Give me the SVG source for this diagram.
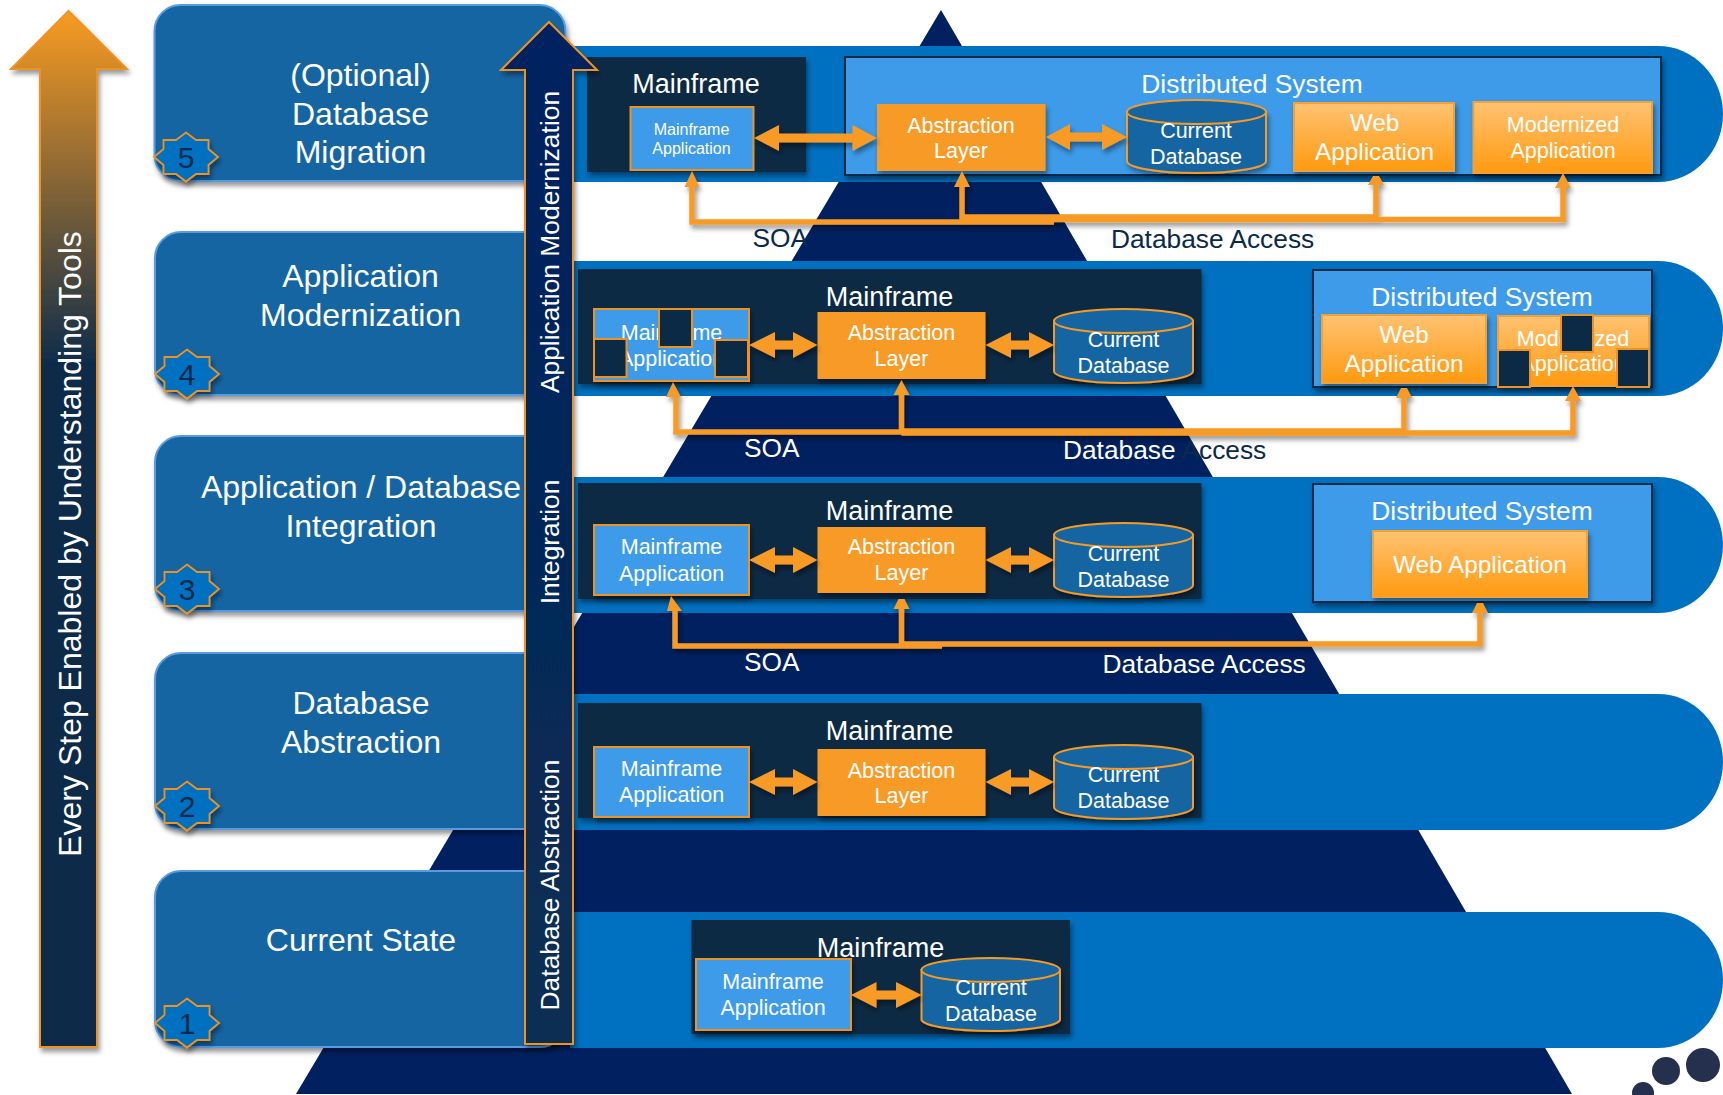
<svg xmlns="http://www.w3.org/2000/svg" width="1723" height="1095" viewBox="0 0 1723 1095">
<style>
text{font-family:"Liberation Sans",Arial,sans-serif;fill:#fff;text-anchor:middle}
.band{fill:#0070C0}
.card{fill:#1665A3;stroke:#5A9BE0;stroke-width:2}
.star{fill:#0070C0;stroke:#EE9322;stroke-width:1.8}
.num{font-size:30px;fill:#0A2A4A}
.h{font-size:32px}
.dark{fill:#0A2A45}
.light{fill:#3D9BE9;stroke:#EE9322;stroke-width:2}
.dist{fill:#3D9BE9;stroke:#0A2A45;stroke-width:2}
.abs{fill:#F79A25}
.grad{fill:url(#og);stroke:#F5A033;stroke-width:2}
.db{fill:#1665A3;stroke:#F79A25;stroke-width:2}
.sq{fill:#0A2A45;stroke:#EE9322;stroke-width:2}
.t27{font-size:27px}.t26{font-size:26.4px}.t24{font-size:24.300px}.t21{font-size:21.500px}.t16{font-size:16px}
.lbl{font-size:26.300px;text-anchor:start;fill:#0A2A4A}
.wire{fill:none;stroke:#F79A25;stroke-width:5.5;stroke-linejoin:miter}
.head{fill:#F79A25}
.sh{filter:url(#shadow)}
</style>
<defs>
<linearGradient id="og" x1="0" y1="0" x2="0" y2="1"><stop offset="0" stop-color="#FFC272"/><stop offset="1" stop-color="#FF9A10"/></linearGradient>
<linearGradient id="left" gradientUnits="userSpaceOnUse" x1="0" y1="10" x2="0" y2="370"><stop offset="0" stop-color="#F99C22"/><stop offset="1" stop-color="#0A2A4A"/></linearGradient>
<linearGradient id="mid" gradientUnits="userSpaceOnUse" x1="0" y1="22" x2="0" y2="1044"><stop offset="0" stop-color="#002060"/><stop offset="1" stop-color="#0A2F52"/></linearGradient>
<filter id="shadow" x="-10%" y="-10%" width="125%" height="130%"><feDropShadow dx="2" dy="4" stdDeviation="2.5" flood-color="#000" flood-opacity="0.4"/></filter>
<polygon id="star" points="0,-24.5 10,-17 22.5,-17 22.5,-8 32,0 22.5,8 22.5,17 10,17 0,24.5 -10,17 -22.5,17 -22.5,8 -32,0 -22.5,-8 -22.5,-17 -10,-17"/>
</defs>

<polygon id="pyramid" points="941,10 296,1094 1572,1094" fill="#002060"/>
<circle cx="1703" cy="1065" r="17" fill="#25304F"/>
<circle cx="1666" cy="1071" r="14" fill="#25304F"/>
<circle cx="1643" cy="1093" r="11" fill="#25304F"/>

<g id="bands">
<path class="band" d="M570,46H1658A65,68 0 0 1 1658,182H570Z"/>
<path class="band" d="M570,261H1658A65,67.5 0 0 1 1658,396H570Z"/>
<path class="band" d="M570,477H1658A65,68 0 0 1 1658,613H570Z"/>
<path class="band" d="M570,694H1658A65,68 0 0 1 1658,830H570Z"/>
<path class="band" d="M570,912H1658A65,68 0 0 1 1658,1048H570Z"/>
</g>

<g id="step5"><rect class="card sh" x="154.500" y="5" width="411" height="176" rx="26"/>
<use href="#star" class="star sh" x="186" y="157"/><text class="num" x="186" y="168">5</text>
<text class="h" x="360.500" y="86">(Optional)</text><text class="h" x="360.500" y="125">Database</text><text class="h" x="360.500" y="163">Migration</text></g>
<g id="step4"><rect class="card sh" x="155" y="232" width="411" height="163" rx="26"/>
<use href="#star" class="star sh" x="187" y="374"/><text class="num" x="187" y="385">4</text>
<text class="h" x="360.500" y="287">Application</text><text class="h" x="360.500" y="326">Modernization</text></g>
<g id="step3"><rect class="card sh" x="155" y="436" width="411" height="175" rx="26"/>
<use href="#star" class="star sh" x="187" y="589"/><text class="num" x="187" y="600">3</text>
<text class="h" x="361" y="498">Application / Database</text><text class="h" x="361" y="537">Integration</text></g>
<g id="step2"><rect class="card sh" x="155" y="653" width="411" height="176" rx="26"/>
<use href="#star" class="star sh" x="187" y="806"/><text class="num" x="187" y="817">2</text>
<text class="h" x="361" y="714">Database</text><text class="h" x="361" y="753">Abstraction</text></g>
<g id="step1"><rect class="card sh" x="155" y="871" width="411" height="176" rx="26"/>
<use href="#star" class="star sh" x="187" y="1023"/><text class="num" x="187" y="1034">1</text>
<text class="h" x="361" y="951">Current State</text></g>

<g id="row5-mainframe"><rect class="dark sh" x="587" y="57" width="219" height="115"/>
<text class="t27" x="696" y="93">Mainframe</text>
<rect class="light" x="630.500" y="107" width="123" height="63"/>
<text class="t16" x="691.500" y="135">Mainframe</text><text class="t16" x="691.500" y="154">Application</text></g>
<g id="row5-distributed"><rect class="dist sh" x="845" y="57" width="816" height="118"/>
<text class="t26" x="1252" y="93">Distributed System</text></g>
<g id="row5-abstraction"><rect class="abs sh" x="877" y="104" width="168.500" height="67"/>
<text class="t21" x="961" y="133">Abstraction</text><text class="t21" x="961" y="158">Layer</text></g>
<g id="row5-db"><path class="db sh" d="M1127,112V161A69.500,12 0 0 0 1266,161V112Z"/><ellipse class="db" cx="1196.500" cy="112" rx="69.500" ry="12"/>
<text class="t21" x="1196" y="138">Current</text><text class="t21" x="1196" y="164">Database</text></g>
<g id="row5-web"><rect class="grad sh" x="1294" y="103" width="160" height="68"/>
<text class="t24" x="1374.500" y="131">Web</text><text class="t24" x="1374.500" y="160">Application</text></g>
<g id="row5-modern"><rect class="grad sh" x="1473.500" y="102" width="178.500" height="71"/>
<text class="t21" x="1563" y="132">Modernized</text><text class="t21" x="1563" y="158">Application</text></g>

<g id="row4-mainframe"><rect class="dark sh" x="578" y="269" width="623.500" height="115"/>
<text class="t27" x="889.500" y="305.500">Mainframe</text></g>
<g id="row4-app"><rect class="light sh" x="594" y="309" width="155" height="72"/>
<text class="t21" x="671.500" y="340">Mainframe</text><text class="t21" x="671.500" y="366">Application</text>
<rect class="sq" x="659" y="309" width="33" height="38"/><rect class="sq" x="594" y="339" width="32.500" height="38"/><rect class="sq" x="715" y="340" width="33" height="37"/></g>
<g id="row4-abstraction"><rect class="abs sh" x="817.500" y="312" width="168" height="67"/>
<text class="t21" x="901.500" y="340">Abstraction</text><text class="t21" x="901.500" y="366">Layer</text></g>
<g id="row4-db"><path class="db sh" d="M1054,321V371A69.500,12 0 0 0 1193,371V321Z"/><ellipse class="db" cx="1123.500" cy="321" rx="69.500" ry="12"/>
<text class="t21" x="1123.500" y="347">Current</text><text class="t21" x="1123.500" y="373">Database</text></g>
<g id="row4-distributed"><rect class="dist sh" x="1313" y="270" width="339" height="117"/>
<text class="t26" x="1482" y="305.500">Distributed System</text></g>
<g id="row4-web"><rect class="grad sh" x="1322" y="315" width="164" height="68"/>
<text class="t24" x="1404" y="343">Web</text><text class="t24" x="1404" y="372">Application</text></g>
<g id="row4-modern"><rect class="grad sh" x="1498" y="316" width="151" height="70"/>
<text class="t21" x="1573" y="346">Modernized</text><text class="t21" x="1573" y="371">Application</text>
<rect class="sq" x="1561" y="315" width="32" height="37"/><rect class="sq" x="1498" y="350" width="32" height="37"/><rect class="sq" x="1617" y="349" width="32" height="38"/></g>

<g id="row3-mainframe"><rect class="dark sh" x="578" y="483" width="623.500" height="116"/>
<text class="t27" x="889.500" y="519.500">Mainframe</text></g>
<g id="row3-app"><rect class="light sh" x="594" y="525" width="155" height="70"/>
<text class="t21" x="671.500" y="554">Mainframe</text><text class="t21" x="671.500" y="581">Application</text></g>
<g id="row3-abstraction"><rect class="abs sh" x="817.500" y="527" width="168" height="66"/>
<text class="t21" x="901.500" y="554">Abstraction</text><text class="t21" x="901.500" y="580">Layer</text></g>
<g id="row3-db"><path class="db sh" d="M1054,535V585A69.500,12 0 0 0 1193,585V535Z"/><ellipse class="db" cx="1123.500" cy="535" rx="69.500" ry="12"/>
<text class="t21" x="1123.500" y="561">Current</text><text class="t21" x="1123.500" y="587">Database</text></g>
<g id="row3-distributed"><rect class="dist sh" x="1313" y="484" width="339" height="118"/>
<text class="t26" x="1482" y="519.500">Distributed System</text></g>
<g id="row3-web"><rect class="grad sh" x="1373" y="531" width="214" height="66"/>
<text class="t24" x="1480" y="573">Web Application</text></g>

<g id="row2-mainframe"><rect class="dark sh" x="578" y="703" width="623.500" height="115"/>
<text class="t27" x="889.500" y="740">Mainframe</text></g>
<g id="row2-app"><rect class="light sh" x="594" y="747" width="155" height="70"/>
<text class="t21" x="671.500" y="776">Mainframe</text><text class="t21" x="671.500" y="802">Application</text></g>
<g id="row2-abstraction"><rect class="abs sh" x="817.500" y="749" width="168" height="67"/>
<text class="t21" x="901.500" y="778">Abstraction</text><text class="t21" x="901.500" y="803">Layer</text></g>
<g id="row2-db"><path class="db sh" d="M1054,757V807A69.500,12 0 0 0 1193,807V757Z"/><ellipse class="db" cx="1123.500" cy="757" rx="69.500" ry="12"/>
<text class="t21" x="1123.500" y="782">Current</text><text class="t21" x="1123.500" y="808">Database</text></g>

<g id="row1-mainframe"><rect class="dark sh" x="691.500" y="920" width="378.500" height="114"/>
<text class="t27" x="880.500" y="957">Mainframe</text></g>
<g id="row1-app"><rect class="light sh" x="696" y="959" width="155" height="71"/>
<text class="t21" x="773" y="989">Mainframe</text><text class="t21" x="773" y="1015">Application</text></g>
<g id="row1-db"><path class="db sh" d="M921.500,970V1020A69.500,12 0 0 0 1060,1020V970Z"/><ellipse class="db" cx="990.750" cy="970" rx="69.250" ry="12"/>
<text class="t21" x="991" y="995">Current</text><text class="t21" x="991" y="1021">Database</text></g>

<g id="connectors" class="sh">
<polygon class="head" points="754,138 779,125 779,133.500 852.500,133.500 852.500,125 877,138 852.500,151 852.500,142.500 779,142.500 779,151"/>
<polygon class="head" points="1046,137 1070,124 1070,132.500 1102,132.500 1102,124 1127,137 1102,150 1102,141.500 1070,141.500 1070,150"/>
<polygon class="head" points="749,345 775,332 775,340.500 793,340.500 793,332 817.500,345 793,358 793,349.500 775,349.500 775,358"/>
<polygon class="head" points="985.500,345 1011,332 1011,340.500 1029,340.500 1029,332 1054,345 1029,358 1029,349.500 1011,349.500 1011,358"/>
<polygon class="head" points="749,560 775,547 775,555.500 793,555.500 793,547 817.500,560 793,573 793,564.500 775,564.500 775,573"/>
<polygon class="head" points="985.500,560 1011,547 1011,555.500 1029,555.500 1029,547 1054,560 1029,573 1029,564.500 1011,564.500 1011,573"/>
<polygon class="head" points="749,782 775,769 775,777.500 793,777.500 793,769 817.500,782 793,795 793,786.500 775,786.500 775,795"/>
<polygon class="head" points="985.500,782 1011,769 1011,777.500 1029,777.500 1029,769 1054,782 1029,795 1029,786.500 1011,786.500 1011,795"/>
<polygon class="head" points="851,995 876.500,982 876.500,990.500 896,990.500 896,982 921.500,995 896,1008 896,999.500 876.500,999.500 876.500,1008"/>

<path class="wire" d="M692,186V222H1054"/>
<path class="wire" d="M962,186V217H1376V183"/>
<path class="wire" d="M962,219.500H1563V187"/>
<polygon class="head" points="692,171 699.500,187 684.500,187"/>
<polygon class="head" points="962,171 970,187 954,187"/>
<polygon class="head" points="1373,176 1379,176 1384,185 1368,185"/>
<polygon class="head" points="1563,173 1571,188 1555,188"/>

<path class="wire" d="M676,396V432H942"/>
<path class="wire" d="M901.500,394V431H1404V397"/>
<path class="wire" d="M901.500,433H1573V400"/>
<polygon class="head" points="673,382 681,397 666,397"/>
<polygon class="head" points="901.500,380 909.500,395 893.500,395"/>
<polygon class="head" points="1401,388 1407,388 1412,398 1396,398"/>
<polygon class="head" points="1573,386 1581,401 1565,401"/>

<path class="wire" d="M675,610V646H942"/>
<path class="wire" d="M901.500,608V644H1480V612"/>
<polygon class="head" points="671,596 682,611 667,611"/>
<polygon class="head" points="898.500,599 904.500,599 909.500,609 893.500,609"/>
<polygon class="head" points="1477,603 1483,603 1488,613 1472,613"/>
</g>

<g id="labels">
<text class="lbl" x="752.500" y="247">SOA</text>
<text class="lbl" x="1111" y="248">Database Access</text>
<text class="lbl" x="744" y="456.500" style="fill:#fff">SOA</text>
<text class="lbl" x="1063" y="459"><tspan style="fill:#fff">Database </tspan>Access</text>
<text class="lbl" x="744" y="670.500" style="fill:#fff">SOA</text>
<text class="lbl" x="1102.500" y="673" style="fill:#fff">Database Access</text>
</g>

<g id="left-arrow"><polygon class="sh" points="68.500,11 127,69 97,69 97,1047 40,1047 40,69 11,69" fill="url(#left)" stroke="#EE9322" stroke-width="2"/>
<text x="81" y="544" transform="rotate(-90 81 544)" font-size="32">Every Step Enabled by Understanding Tools</text></g>
<g id="middle-arrow"><polygon class="sh" points="549,22 597,70 573,70 573,1044 525,1044 525,70 501,70" fill="url(#mid)" stroke="#EE9322" stroke-width="2"/>
<text x="559" y="242" transform="rotate(-90 559 242)" font-size="26.400">Application Modernization</text>
<text x="559" y="542" transform="rotate(-90 559 542)" font-size="26.400">Integration</text>
<text x="559" y="885" transform="rotate(-90 559 885)" font-size="26.400">Database Abstraction</text></g>
</svg>
